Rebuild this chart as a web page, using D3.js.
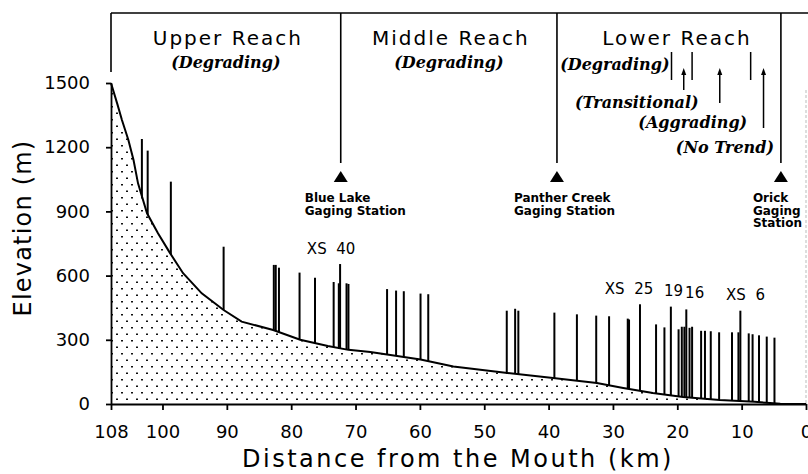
<!DOCTYPE html>
<html>
<head>
<meta charset="utf-8">
<script src="https://cdn.jsdelivr.net/npm/d3@7"></script>
<style>
  body { margin: 0; background: #fff; }
  text { fill: #000; }
</style>
</head>
<body>
<svg id="chart" width="808" height="474"></svg>
<script>
// longitudinal profile: [km from mouth, elevation m]
var profile = [
  [108, 1500], [107, 1400], [106.3, 1327], [105.3, 1234], [104.5, 1140],
  [103.8, 1031], [102.4, 891], [100.7, 798], [98.8, 704], [96.8, 611],
  [93.9, 517], [90.5, 439], [87.7, 385], [82.8, 346], [78.6, 300],
  [74.3, 271], [71.1, 253], [67.7, 243], [59.9, 208], [54.8, 175],
  [46.4, 145], [39.3, 121], [32.5, 98], [28.4, 75], [23.8, 51],
  [19.1, 33], [13.4, 19], [8, 10], [5.6, 5], [4, 1], [0, 0]
];

// cross sections: [km, top of line (m)]
var crossSections = [
  [103.2, 1238], [102.3, 1184], [98.7, 1039], [90.5, 735],
  [82.7, 650], [82.4, 650], [81.9, 637], [78.7, 614], [76.3, 590],
  [73.4, 570], [72.6, 564], [72.4, 654], [71.4, 564], [71.1, 561],
  [65.1, 537], [63.7, 530], [62.5, 527], [59.9, 516], [58.7, 513],
  [46.5, 436], [45.2, 445], [44.7, 436],
  [39.1, 427], [35.6, 419], [32.6, 413], [30.6, 410],
  [27.7, 399], [27.5, 395], [25.8, 466], [23.3, 372], [22.0, 358],
  [21.0, 455], [19.8, 349], [19.3, 361], [18.9, 361], [18.6, 442],
  [18.1, 356], [17.7, 361], [16.3, 342], [15.7, 342], [14.8, 340],
  [13.5, 335], [11.5, 335], [10.5, 335], [10.2, 436], [8.9, 330],
  [8.3, 326], [7.3, 321], [6.1, 315], [4.9, 310]
];

// labelled cross sections
var xsLabels = [
  { text: "XS  40", km: 73.8, elev: 700 },
  { text: "XS  25", km: 27.5, elev: 515 },
  { text: "19", km: 20.6, elev: 505 },
  { text: "16", km: 17.3, elev: 495 },
  { text: "XS  6", km: 9.4, elev: 485 }
];

var stations = [
  { km: 72.3, lines: ["Blue Lake", "Gaging Station"], dx: -36 },
  { km: 38.7, lines: ["Panther Creek", "Gaging Station"], dx: -43 },
  { km: 3.9, lines: ["Orick", "Gaging", "Station"], dx: -28 }
];

var reaches = [
  { name: "Upper Reach", trend: "(Degrading)", from: 108, to: 72.3 },
  { name: "Middle Reach", trend: "(Degrading)", from: 72.3, to: 38.7 },
  { name: "Lower Reach", trend: null, from: 38.7, to: 3.9 }
];

// lower reach trend labels
var trendLabels = [
  { text: "(Degrading)", km: 29.7, row: 0 },
  { text: "(Transitional)", km: 26.3, row: 1 },
  { text: "(Aggrading)", km: 17.6, row: 2 },
  { text: "(No Trend)", km: 12.6, row: 3 }
];
var trendBars = [20.9, 17.7, 8.6];
var trendArrows = [
  { km: 19.0, row: 1 },
  { km: 13.4, row: 2 },
  { km: 6.6, row: 3 }
];

var xTicks = [108, 100, 90, 80, 70, 60, 50, 40, 30, 20, 10, 0];
var yTicks = [0, 300, 600, 900, 1200, 1500];

var svg = d3.select("#chart");

var x = d3.scaleLinear().domain([108, 0]).range([111, 806]);
var y = d3.scaleLinear().domain([0, 1500]).range([404, 83]);

var boxTop = 13;

// dot fill pattern
var pat = svg.append("defs").append("pattern")
    .attr("id", "dots")
    .attr("patternUnits", "userSpaceOnUse")
    .attr("width", 10)
    .attr("height", 13);
pat.append("rect").attr("width", 10).attr("height", 13).attr("fill", "#fff");
pat.append("rect").attr("x", 1).attr("y", 2).attr("width", 2).attr("height", 1.5).attr("fill", "#111");
pat.append("rect").attr("x", 6).attr("y", 8.5).attr("width", 2).attr("height", 1.5).attr("fill", "#111");

// right border (faint)
svg.append("line")
    .attr("x1", x(0)).attr("x2", x(0))
    .attr("y1", 90).attr("y2", y(0))
    .attr("stroke", "#bbb")
    .attr("stroke-width", 1)
    .attr("stroke-dasharray", "3,2");

// cross sections (drawn to zero, area hides the part under the bed)
svg.append("g").selectAll("line")
    .data(crossSections)
    .join("line")
    .attr("x1", function(d) { return x(d[0]); })
    .attr("x2", function(d) { return x(d[0]); })
    .attr("y1", function(d) { return y(d[1]); })
    .attr("y2", y(0))
    .attr("stroke", "#000")
    .attr("stroke-width", 2);

// area under profile
svg.append("path")
    .datum(profile)
    .attr("fill", "url(#dots)")
    .attr("d", d3.area()
        .x(function(d) { return x(d[0]); })
        .y0(y(0))
        .y1(function(d) { return y(d[1]); }));

svg.append("path")
    .datum(profile)
    .attr("fill", "none")
    .attr("stroke", "#000")
    .attr("stroke-width", 2)
    .attr("d", d3.line()
        .x(function(d) { return x(d[0]); })
        .y(function(d) { return y(d[1]); }));

// axes
var xAxis = svg.append("g")
    .attr("transform", "translate(0," + y(0) + ")")
    .call(d3.axisBottom(x).tickValues(xTicks).tickSize(6).tickSizeOuter(0).tickPadding(15));
var yAxis = svg.append("g")
    .attr("transform", "translate(" + x(108) + ",0)")
    .call(d3.axisLeft(y).tickValues(yTicks).tickFormat(d3.format("d"))
        .tickSize(5).tickSizeOuter(0).tickPadding(16));

[xAxis, yAxis].forEach(function(g) {
    g.selectAll("path, line").attr("stroke", "#000").attr("stroke-width", 1.8);
    g.selectAll("text")
        .attr("font-family", "DejaVu Sans")
        .attr("font-size", 18)
        .attr("fill", "#000");
});

svg.append("text")
    .attr("x", 458)
    .attr("y", 467)
    .attr("text-anchor", "middle")
    .attr("font-family", "DejaVu Sans")
    .attr("font-size", 24)
    .attr("letter-spacing", 2.5)
    .text("Distance from the Mouth (km)");

svg.append("text")
    .attr("transform", "translate(31,228) rotate(-90)")
    .attr("text-anchor", "middle")
    .attr("font-family", "DejaVu Sans")
    .attr("font-size", 24)
    .attr("letter-spacing", 1.2)
    .text("Elevation (m)");

// reach box
svg.append("line")
    .attr("x1", x(108)).attr("x2", 808)
    .attr("y1", boxTop).attr("y2", boxTop)
    .attr("stroke", "#000").attr("stroke-width", 1.6);

svg.append("line")
    .attr("x1", x(108)).attr("x2", x(108))
    .attr("y1", boxTop).attr("y2", 72)
    .attr("stroke", "#000").attr("stroke-width", 1.6);

svg.append("g").selectAll("line")
    .data(stations)
    .join("line")
    .attr("x1", function(d) { return x(d.km); })
    .attr("x2", function(d) { return x(d.km); })
    .attr("y1", boxTop)
    .attr("y2", 163)
    .attr("stroke", "#000")
    .attr("stroke-width", 1.6);

// station triangles
svg.append("g").selectAll("path")
    .data(stations)
    .join("path")
    .attr("transform", function(d) { return "translate(" + x(d.km) + ",178)"; })
    .attr("d", "M-7,4L7,4L0,-7Z")
    .attr("fill", "#000");

var st = svg.append("g").selectAll("text")
    .data(stations)
    .join("text")
    .attr("font-family", "DejaVu Sans")
    .attr("font-weight", "bold")
    .attr("font-size", 12)
    .attr("transform", function(d) { return "translate(" + (x(d.km) + d.dx) + ",202)"; });
st.selectAll("tspan")
    .data(function(d) { return d.lines; })
    .join("tspan")
    .attr("x", 0)
    .attr("dy", function(d, i) { return i ? 12.5 : 0; })
    .text(function(d) { return d; });

// reach names
svg.append("g").selectAll("text")
    .data(reaches)
    .join("text")
    .attr("x", function(d) { return (x(d.from) + x(d.to)) / 2 + (d.trend ? 2 : 8); })
    .attr("y", 45)
    .attr("text-anchor", "middle")
    .attr("font-family", "DejaVu Sans")
    .attr("font-size", 20)
    .attr("letter-spacing", 2)
    .text(function(d) { return d.name; });

svg.append("g").selectAll("text")
    .data(reaches.filter(function(d) { return d.trend; }))
    .join("text")
    .attr("x", function(d) { return (x(d.from) + x(d.to)) / 2; })
    .attr("y", 68)
    .attr("text-anchor", "middle")
    .attr("font-family", "DejaVu Serif")
    .attr("font-style", "italic")
    .attr("font-weight", "bold")
    .attr("font-size", 16)
    .text(function(d) { return d.trend; });

var rowY = [70, 108, 128, 153];
svg.append("g").selectAll("text")
    .data(trendLabels)
    .join("text")
    .attr("x", function(d) { return x(d.km); })
    .attr("y", function(d) { return rowY[d.row]; })
    .attr("text-anchor", "middle")
    .attr("font-family", "DejaVu Serif")
    .attr("font-style", "italic")
    .attr("font-weight", "bold")
    .attr("font-size", 16)
    .text(function(d) { return d.text; });

svg.append("g").selectAll("line")
    .data(trendBars)
    .join("line")
    .attr("x1", function(d) { return x(d); })
    .attr("x2", function(d) { return x(d); })
    .attr("y1", 52).attr("y2", 80)
    .attr("stroke", "#000").attr("stroke-width", 1.5);

var arrowBottom = [0, 90, 103, 128];
var arr = svg.append("g").selectAll("g")
    .data(trendArrows)
    .join("g")
    .attr("transform", function(d) { return "translate(" + x(d.km) + ",0)"; });
arr.append("line")
    .attr("y1", function(d) { return arrowBottom[d.row]; })
    .attr("y2", 72)
    .attr("stroke", "#000").attr("stroke-width", 1.5);
arr.append("path")
    .attr("d", "M-2.5,75L2.5,75L0,68Z")
    .attr("fill", "#000");

// cross section labels
svg.append("g").selectAll("text")
    .data(xsLabels)
    .join("text")
    .attr("x", function(d) { return x(d.km); })
    .attr("y", function(d) { return y(d.elev); })
    .attr("text-anchor", "middle")
    .attr("font-family", "DejaVu Sans")
    .attr("font-size", 15)
    .style("white-space", "pre")
    .text(function(d) { return d.text; });
</script>
</body>
</html>
